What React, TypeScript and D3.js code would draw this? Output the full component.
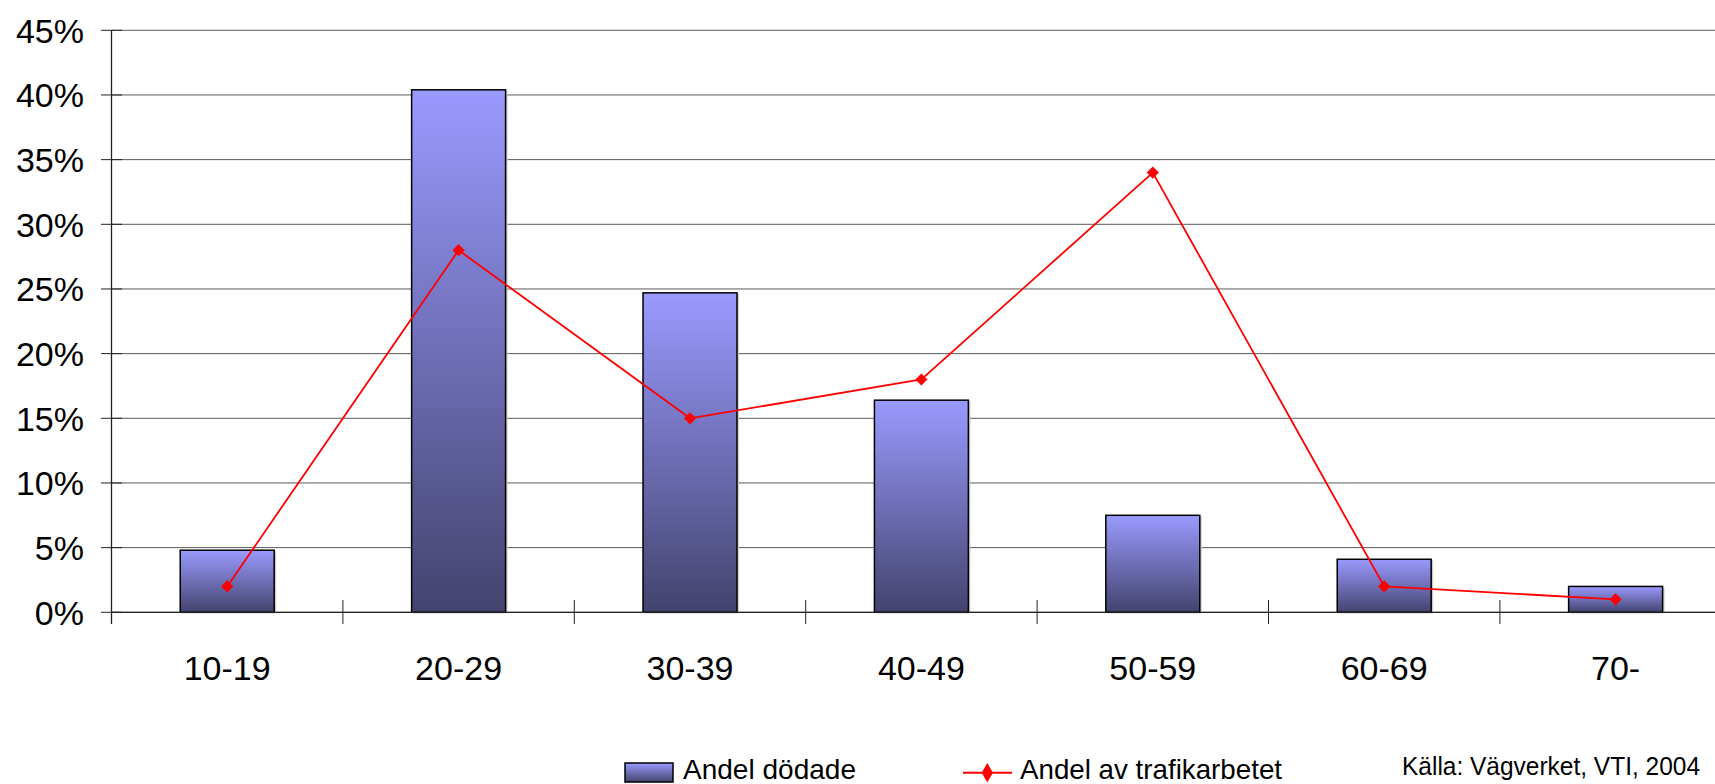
import React from "react";
import * as d3 from "d3";

// Age groups and shares
const ageGroups = ["10-19", "20-29", "30-39", "40-49", "50-59", "60-69", "70-"];
const killedShare = [0.048, 0.404, 0.247, 0.164, 0.075, 0.041, 0.02];
const trafficShare = [0.02, 0.28, 0.15, 0.18, 0.34, 0.02, 0.01];
const yTicks = [0, 0.05, 0.1, 0.15, 0.2, 0.25, 0.3, 0.35, 0.4, 0.45];
const barLabel = "Andel dödade";
const lineLabel = "Andel av trafikarbetet";
const sourceText = "Källa: Vägverket, VTI, 2004";

const W = 1715;
const H = 784;
const FONT = "'Liberation Sans', Arial, sans-serif";

const App: React.FC = () => {
  const left = 111.5;
  const step = 231.4;
  const top = 30.3;
  const bottom = 612.3;

  // band scale for ticks and centers; bars take ~40% of a band
  const x = d3
    .scaleBand<string>()
    .domain(ageGroups)
    .range([left, left + step * ageGroups.length])
    .padding(0);
  const barW = x.bandwidth() * 0.406;
  const cx = (g: string) => (x(g) as number) + x.bandwidth() / 2;

  const y = d3.scaleLinear().domain([0, 0.45]).range([bottom, top]);

  const line = d3
    .line<number>()
    .x((_, i) => cx(ageGroups[i]))
    .y((d) => y(d));

  const marker = d3.symbol().type(d3.symbolSquare).size(74)();
  const legMarker = d3.symbol().type(d3.symbolDiamond).size(110)();

  return (
    <svg
      width={W}
      height={H}
      style={{ position: "absolute", left: 0, top: 0, background: "#fff" }}
      fontFamily={FONT}
    >
      <defs>
        <linearGradient id="barGrad" x1="0" y1="0" x2="0" y2="1">
          <stop offset="0" stopColor="#9a9aff" />
          <stop offset="1" stopColor="#43436e" />
        </linearGradient>
      </defs>

      {/* gridlines and y ticks */}
      {yTicks.map((t) => (
        <g key={t}>
          <line x1={left} x2={W} y1={y(t)} y2={y(t)} stroke="#5a5a5a" strokeWidth={1} />
          <line x1={101} x2={122} y1={y(t)} y2={y(t)} stroke="#222" strokeWidth={1} />
          <text x={84} y={y(t) + 12.5} fontSize={34} textAnchor="end" fill="#000">
            {d3.format(".0%")(t)}
          </text>
        </g>
      ))}

      {/* bars */}
      {killedShare.map((v, i) => {
        const c = cx(ageGroups[i]);
        return (
          <g key={ageGroups[i]}>
            <rect x={c - barW / 2 + 2} y={y(v) + 1} width={barW} height={bottom - y(v)} fill="#cccccc" />
            <rect
              x={c - barW / 2}
              y={y(v)}
              width={barW}
              height={bottom - y(v)}
              fill="url(#barGrad)"
              stroke="#000"
              strokeWidth={1.5}
            />
          </g>
        );
      })}

      {/* axes */}
      <line x1={left} x2={left} y1={top} y2={624} stroke="#222" strokeWidth={1.3} />
      <line x1={left} x2={W} y1={bottom} y2={bottom} stroke="#222" strokeWidth={1.3} />
      {ageGroups.slice(1).map((g) => (
        <line key={g} x1={x(g) as number} x2={x(g) as number} y1={600} y2={624} stroke="#222" strokeWidth={1} />
      ))}

      {/* category labels */}
      {ageGroups.map((g) => (
        <text key={g} x={cx(g)} y={680} fontSize={34} textAnchor="middle" fill="#000">
          {g}
        </text>
      ))}

      {/* line series */}
      <path d={line(trafficShare) ?? ""} fill="none" stroke="#ff0000" strokeWidth={1.8} />
      {trafficShare.map((v, i) => (
        <path
          key={i}
          d={marker ?? ""}
          transform={`translate(${cx(ageGroups[i])},${y(v)}) rotate(45)`}
          fill="#ff0000"
        />
      ))}

      {/* legend */}
      <rect x={625} y={763} width={48} height={19} fill="url(#barGrad)" stroke="#000" strokeWidth={1.5} />
      <text x={683} y={778.5} fontSize={28} textLength={173} lengthAdjust="spacingAndGlyphs" fill="#000">
        {barLabel}
      </text>
      <line x1={963} x2={1012} y1={772.7} y2={772.7} stroke="#ff0000" strokeWidth={2} />
      <path d={legMarker ?? ""} transform="translate(987.3,772.7)" fill="#ff0000" />
      <text x={1020} y={778.5} fontSize={28} textLength={262} lengthAdjust="spacingAndGlyphs" fill="#000">
        {lineLabel}
      </text>

      {/* source note, squeezed so it fits inside the frame */}
      <text x={1402} y={775} fontSize={25} textLength={298} lengthAdjust="spacingAndGlyphs" fill="#000">
        {sourceText}
      </text>
    </svg>
  );
};

export default App;
